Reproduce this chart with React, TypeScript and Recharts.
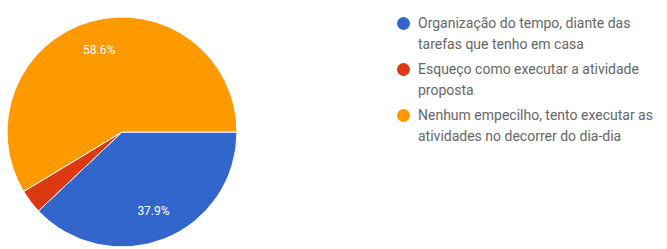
import { Cell, Legend, Pie, PieChart } from 'recharts'

const categories = [
	'Organização do tempo, diante das tarefas que tenho em casa',
	'Esqueço como executar a atividade proposta',
	'Nenhum empecilho, tento executar as atividades no decorrer do dia-dia',
]
const percentages = [37.9, 3.4, 58.6]
const sliceColors = ['#3366cc', '#dc3912', '#ff9900']

const chartData = categories.map((name, i) => ({ name, value: percentages[i] }))

const RADIAN = Math.PI / 180

function SliceLabel(props: any) {
	const { cx, cy, midAngle, outerRadius, percent, value } = props
	if (percent < 0.05) return null
	const r = outerRadius * 0.74
	const x = cx + r * Math.cos(-midAngle * RADIAN)
	const y = cy + r * Math.sin(-midAngle * RADIAN)
	return (
		<text
			x={x}
			y={y}
			fill="#ffffff"
			fontSize={12}
			fontFamily="Roboto, Arial, sans-serif"
			textAnchor="middle"
			dominantBaseline="central"
		>
			{`${Number(value).toFixed(1)}%`}
		</text>
	)
}

function LegendList() {
	return (
		<ul style={{ listStyle: 'none', margin: 0, padding: 0, width: 262 }}>
			{chartData.map((entry, i) => (
				<li
					key={entry.name}
					style={{
						position: 'relative',
						paddingLeft: 22,
						marginBottom: 5,
						fontSize: 14,
						lineHeight: '20.5px',
						color: '#666666',
						fontFamily: 'Roboto, Arial, sans-serif',
					}}
				>
					<span
						style={{
							position: 'absolute',
							left: 1,
							top: 4,
							width: 13,
							height: 13,
							borderRadius: '50%',
							background: sliceColors[i],
						}}
					/>
					{entry.name}
				</li>
			))}
		</ul>
	)
}

export default function App() {
	return (
		<div style={{ position: 'absolute', left: 0, top: 0, width: 667, height: 249, background: '#fff' }}>
			<PieChart width={667} height={249} margin={{ top: 0, right: 0, bottom: 0, left: 0 }}>
				<Pie
					data={chartData}
					dataKey="value"
					nameKey="name"
					cx={122}
					cy={132}
					outerRadius={115}
					startAngle={0}
					endAngle={-360}
					stroke="#ffffff"
					strokeWidth={1}
					label={SliceLabel}
					labelLine={false}
					isAnimationActive={false}
				>
					{chartData.map((entry, i) => (
						<Cell key={entry.name} fill={sliceColors[i]} />
					))}
				</Pie>
				<Legend
					layout="vertical"
					verticalAlign="top"
					align="right"
					content={() => <LegendList />}
					wrapperStyle={{ left: 396, top: 13, width: 264 }}
				/>
			</PieChart>
		</div>
	)
}
